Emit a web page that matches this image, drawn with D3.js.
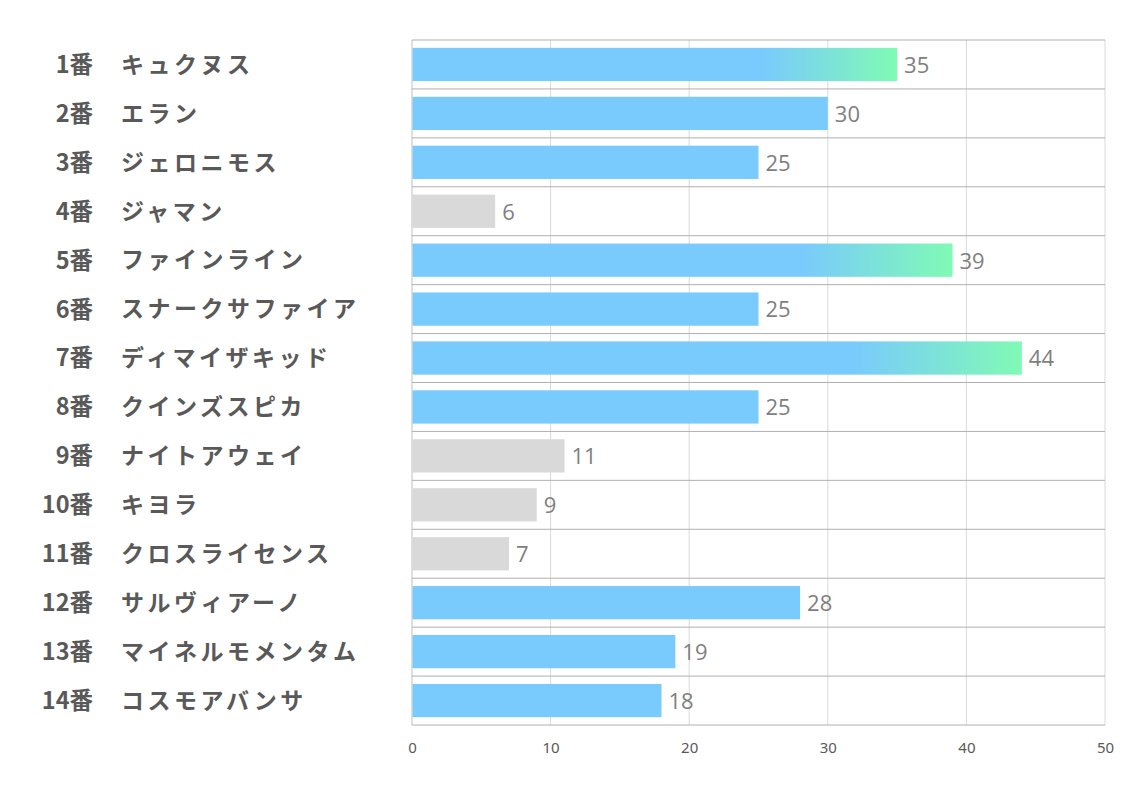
<!DOCTYPE html>
<html><head><meta charset="utf-8">
<script src="https://cdn.jsdelivr.net/npm/d3@7"></script>
<style>body{margin:0;background:#fff}svg{display:block}</style>
</head><body>
<svg id="c" width="1134" height="793"></svg>
<script>
const numbers = ["1番","2番","3番","4番","5番","6番","7番","8番","9番","10番","11番","12番","13番","14番"];
const names = ["キュクヌス","エラン","ジェロニモス","ジャマン","ファインライン","スナークサファイア","ディマイザキッド","クインズスピカ","ナイトアウェイ","キヨラ","クロスライセンス","サルヴィアーノ","マイネルモメンタム","コスモアバンサ"];
const values = [35,30,25,6,39,25,44,25,11,9,7,28,19,18];
const tiers = ["top","mid","mid","low","top","mid","top","mid","low","low","low","mid","mid","mid"];
const ticks = [0,10,20,30,40,50];

const svg = d3.select("#c");
const L = 412, R = 1105, T = 40, B = 725;
const x = d3.scaleLinear().domain([0,50]).range([L,R]);
const y = d3.scaleBand().domain(d3.range(values.length)).range([T,B]).paddingInner(0.32).paddingOuter(0.16);
const step = y.step();

const defs = svg.append("defs");
const g = defs.append("linearGradient").attr("id","grad").attr("x1","0").attr("x2","1").attr("y1","0").attr("y2","0");
g.append("stop").attr("offset","0.72").attr("stop-color","#79CAFD");
g.append("stop").attr("offset","1").attr("stop-color","#80FAB5");

svg.append("g").selectAll("line").data(ticks).join("line")
  .attr("x1",d=>x(d)).attr("x2",d=>x(d)).attr("y1",T).attr("y2",B)
  .attr("stroke",d=>d===0?"#bfbfbf":"#d9d9d9").attr("stroke-width",1);

svg.append("g").selectAll("line").data(d3.range(values.length+1)).join("line")
  .attr("x1",L).attr("x2",R).attr("y1",i=>T+i*step).attr("y2",i=>T+i*step)
  .attr("stroke","#b0b0b0").attr("stroke-width",1);

const fill = t => t==="top" ? "url(#grad)" : t==="mid" ? "#79CAFD" : "#D9D9D9";
svg.append("g").selectAll("rect").data(values).join("rect")
  .attr("x",x(0)+0.5).attr("y",(d,i)=>y(i)).attr("height",y.bandwidth())
  .attr("width",d=>x(d)-x(0)-0.5).attr("fill",(d,i)=>fill(tiers[i]));

svg.append("g").selectAll("text").data(values).join("text")
  .attr("x",d=>x(d)+7).attr("y",(d,i)=>y(i)+y.bandwidth()/2).attr("dy","0.38em")
  .attr("font-family","'Open Sans','Noto Sans',sans-serif").attr("font-size",22)
  .attr("fill","#7f7f7f").text(d=>d);

svg.append("g").selectAll("text").data(numbers).join("text")
  .attr("x",93).attr("y",(d,i)=>y(i)+y.bandwidth()/2).attr("dy","0.36em")
  .attr("text-anchor","end").attr("font-family","'Noto Sans CJK JP',sans-serif")
  .attr("font-weight","bold").attr("font-size",23.5).attr("fill","#595959").text(d=>d);

svg.append("g").selectAll("text").data(names).join("text")
  .attr("x",121).attr("y",(d,i)=>y(i)+y.bandwidth()/2).attr("dy","0.36em")
  .attr("font-family","'Noto Sans CJK JP',sans-serif").attr("letter-spacing","3.5px")
  .attr("font-weight","bold").attr("font-size",23).attr("fill","#595959").text(d=>d);

const ax = svg.append("g").attr("transform",`translate(0,${B})`)
  .call(d3.axisBottom(x).tickValues(ticks).tickSize(0).tickPadding(17));
ax.select(".domain").remove();
ax.selectAll("text").attr("font-family","'Liberation Sans Narrow','Noto Sans',sans-serif").attr("font-size",15).attr("fill","#595959");
</script>
</body></html>
